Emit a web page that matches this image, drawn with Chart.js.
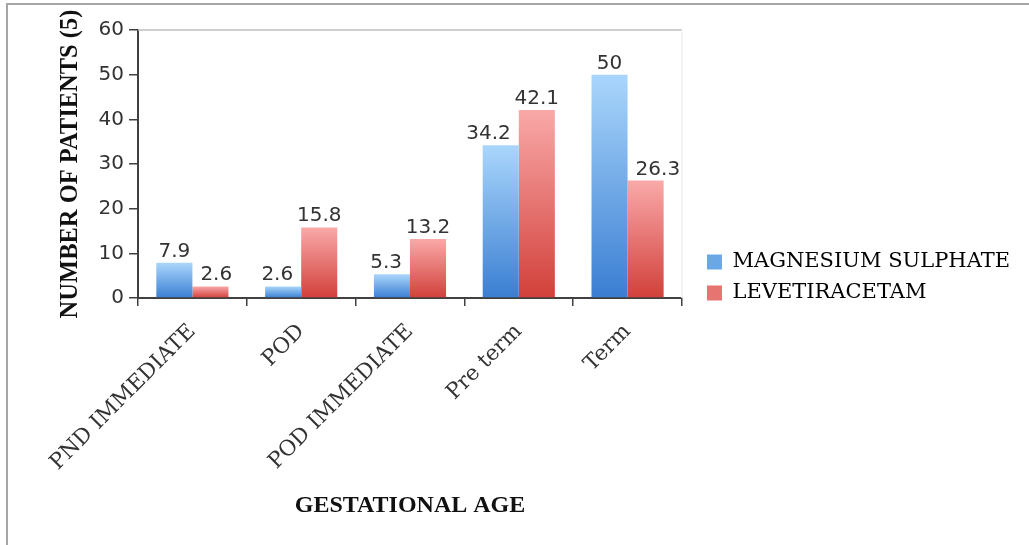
<!DOCTYPE html>
<html>
<head>
<meta charset="utf-8">
<script src="https://cdn.jsdelivr.net/npm/chart.js@4/dist/chart.umd.min.js"></script>
<style>
  html, body { margin: 0; padding: 0; background: #fff; }
  #frame {
    position: absolute; left: 6px; top: 3px;
    width: 1023px; height: 542px;
    border-left: 2px solid #a6a6a6; border-top: 2px solid #a6a6a6;
  }
  canvas { display: block; }
</style>
</head>
<body>
<div id="frame"><canvas id="chart" width="1021" height="540"></canvas></div>
<script>
// Gestational age groups and share of patients per treatment
const categories = ['PND IMMEDIATE', 'POD', 'POD IMMEDIATE', 'Pre term', 'Term'];
const magnesiumSulphate = [7.9, 2.6, 5.3, 34.2, 50];
const levetiracetam = [2.6, 15.8, 13.2, 42.1, 26.3];
const yTicks = [0, 10, 20, 30, 40, 50, 60];

const AXIS = '#404040';
const TEXT = '#333333';

// Vertical light-to-dark fill per bar, spanning from its top to the zero line
function barFill(light, dark) {
  return (ctx) => {
    const chart = ctx.chart;
    if (ctx.type !== 'data' || !chart.chartArea) return dark;
    const y = chart.scales.y;
    const top = y.getPixelForValue(ctx.raw);
    const base = y.getPixelForValue(0);
    if (!isFinite(top) || Math.abs(base - top) < 1) return dark;
    const g = chart.ctx.createLinearGradient(0, top, 0, base);
    g.addColorStop(0, light);
    g.addColorStop(1, dark);
    return g;
  };
}

// Thin frame along the top and right of the plot area
const plotFrame = {
  id: 'plotFrame',
  beforeDatasetsDraw(chart) {
    const { ctx, chartArea: a } = chart;
    ctx.save();
    ctx.lineWidth = 1.5;
    ctx.strokeStyle = '#bfbfbf';
    ctx.beginPath();
    ctx.moveTo(a.left, a.top);
    ctx.lineTo(a.right, a.top);
    ctx.stroke();
    ctx.strokeStyle = '#f0f0f0';
    ctx.beginPath();
    ctx.moveTo(a.right, a.top);
    ctx.lineTo(a.right, a.bottom);
    ctx.stroke();
    ctx.restore();
  }
};

// Value labels above each bar, nudged sideways off a taller neighbouring bar
const valueLabels = {
  id: 'valueLabels',
  afterDatasetsDraw(chart) {
    const { ctx } = chart;
    const metas = chart.data.datasets.map((d, i) => chart.getDatasetMeta(i));
    const gap = 6, pad = 8;
    ctx.save();
    ctx.font = '20px "DejaVu Sans"';
    ctx.fillStyle = TEXT;
    ctx.textAlign = 'center';
    ctx.textBaseline = 'alphabetic';
    metas.forEach((meta, di) => {
      const values = chart.data.datasets[di].data;
      meta.data.forEach((bar, i) => {
        const text = String(values[i]);
        const w = ctx.measureText(text).width;
        const baseline = bar.y - gap;
        let cx = bar.x;
        metas.forEach((other, oi) => {
          if (oi === di) return;
          const ob = other.data[i];
          if (!ob || ob.y >= baseline) return;
          const half = ob.width / 2;
          if (ob.x > bar.x) {
            if (cx + w / 2 + pad > ob.x - half) cx = ob.x - half - pad - w / 2;
          } else {
            if (cx - w / 2 - pad < ob.x + half) cx = ob.x + half + pad + w / 2;
          }
        });
        ctx.fillText(text, cx, baseline);
      });
    });
    ctx.restore();
  }
};

new Chart(document.getElementById('chart'), {
  type: 'bar',
  data: {
    labels: categories,
    datasets: [
      {
        label: 'MAGNESIUM SULPHATE',
        data: magnesiumSulphate,
        backgroundColor: barFill('#aad6fc', '#3a7ed2'),
        borderWidth: 0
      },
      {
        label: 'LEVETIRACETAM',
        data: levetiracetam,
        backgroundColor: barFill('#f9a9a9', '#d2403a'),
        borderWidth: 0
      }
    ]
  },
  options: {
    responsive: false,
    animation: false,
    events: [],
    categoryPercentage: 0.663,
    barPercentage: 1.0,
    layout: { padding: { top: 25, left: 45, right: 9, bottom: 20 } },
    plugins: {
      tooltip: { enabled: false },
      legend: {
        position: 'right',
        maxWidth: 420,
        labels: {
          boxWidth: 15,
          boxHeight: 15,
          padding: 10,
          color: '#1a1a1a',
          font: { family: '"DejaVu Serif"', size: 21 },
          generateLabels(chart) {
            const mids = ['#6aa7e6', '#e67470'];
            return chart.data.datasets.map((ds, i) => ({
              text: ds.label,
              fillStyle: mids[i],
              strokeStyle: mids[i],
              lineWidth: 0,
              hidden: false,
              datasetIndex: i
            }));
          }
        }
      }
    },
    scales: {
      x: {
        grid: {
          offset: true,
          drawOnChartArea: false,
          drawTicks: true,
          tickLength: 8,
          color: AXIS,
          lineWidth: 1.5
        },
        border: { display: true, color: AXIS, width: 2 },
        ticks: {
          autoSkip: false,
          maxRotation: 45,
          minRotation: 45,
          padding: 13,
          color: TEXT,
          font: { family: '"DejaVu Serif"', size: 21.5 }
        },
        title: {
          display: true,
          text: 'GESTATIONAL AGE',
          color: '#111',
          font: { family: '"Liberation Serif"', size: 24, weight: 'bold' },
          padding: { top: 0, bottom: 5 }
        },
        afterFit(scale) { scale.height = 227; }
      },
      y: {
        min: 0,
        max: 60,
        afterBuildTicks(scale) { scale.ticks = yTicks.map(v => ({ value: v })); },
        grid: {
          drawOnChartArea: false,
          drawTicks: true,
          tickLength: 9,
          color: AXIS,
          lineWidth: 1.5
        },
        border: { display: true, color: AXIS, width: 2 },
        ticks: {
          padding: 5,
          color: TEXT,
          font: { family: '"DejaVu Sans"', size: 20 }
        },
        title: {
          display: true,
          text: 'NUMBER OF PATIENTS (5)',
          color: '#111',
          font: { family: '"Liberation Serif"', size: 24.5, weight: 'bold' },
          padding: { top: 3, bottom: 0 }
        },
        afterFit(scale) { scale.width = 85; }
      },
      legendGap: {
        type: 'linear',
        position: 'right',
        display: true,
        min: 0,
        max: 1,
        grid: { display: false },
        border: { display: false },
        ticks: { display: false },
        afterFit(scale) { scale.width = 15; }
      }
    }
  },
  plugins: [plotFrame, valueLabels]
});
</script>
</body>
</html>
